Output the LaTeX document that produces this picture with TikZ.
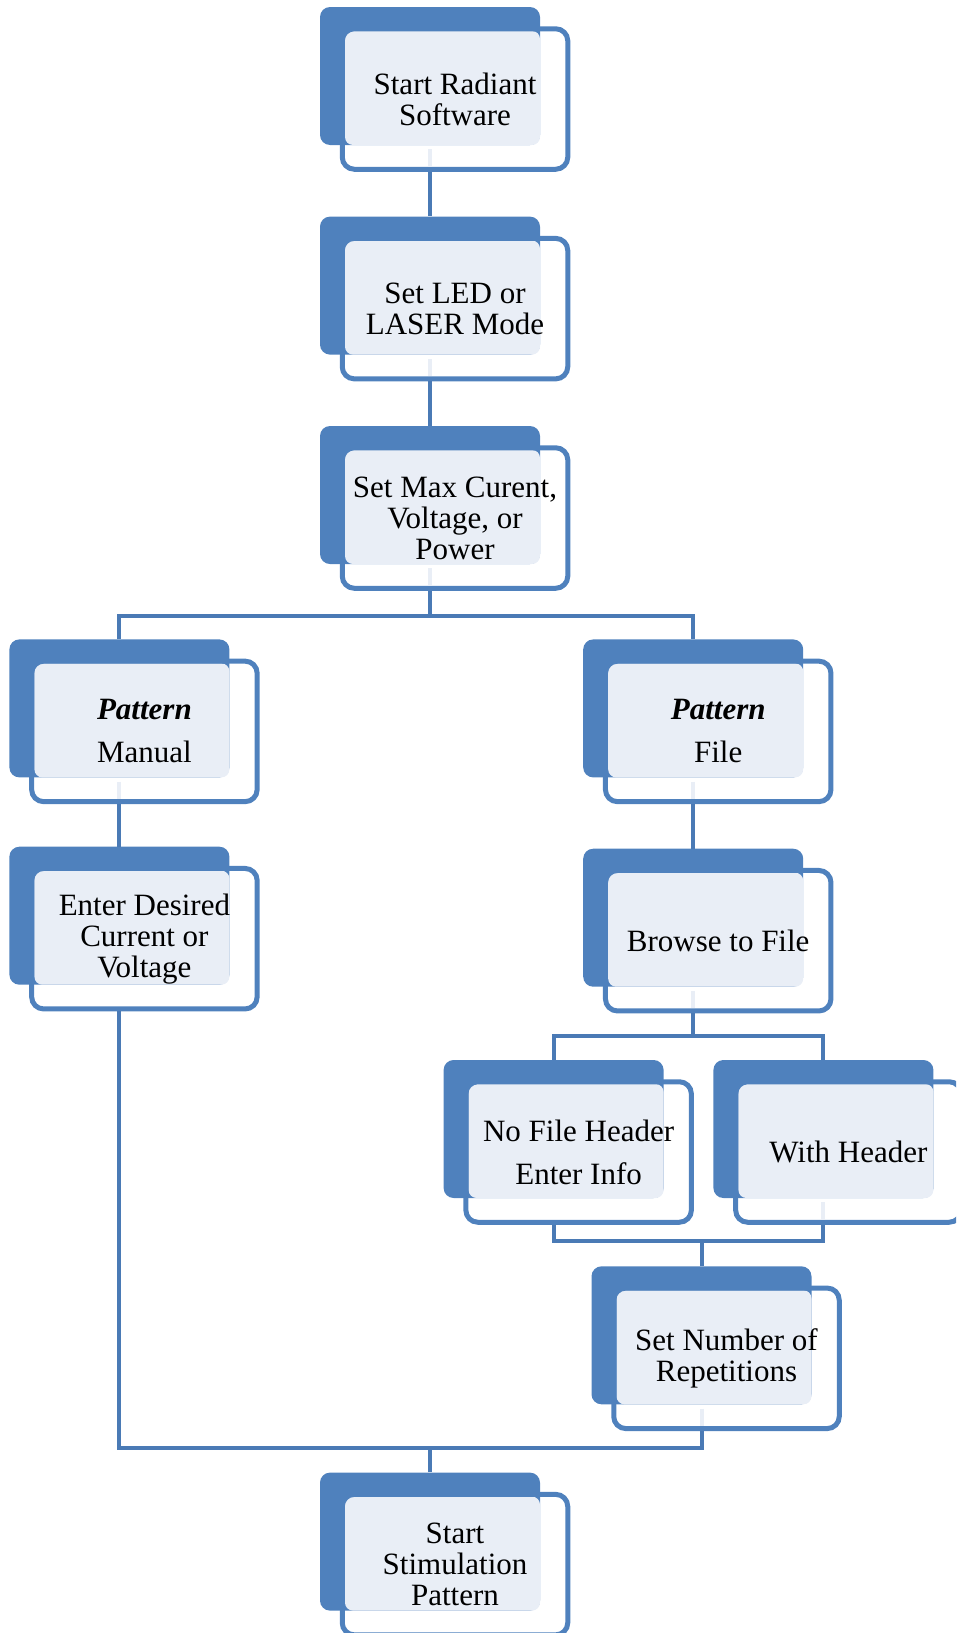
\documentclass[tikz,border=0pt]{standalone}
\usepackage{fontspec}
\setmainfont{Liberation Serif}
\definecolor{dkblue}{HTML}{4F81BD}
\definecolor{lnblue}{HTML}{4A7AB5}
\definecolor{ltblue}{HTML}{E9EEF6}
\tikzset{
  back/.style={fill=dkblue, draw=none, rounded corners=10pt, minimum width=220pt, minimum height=138pt, inner sep=0pt},
  front/.style={draw=dkblue, line width=5pt, rounded corners=12pt, minimum width=225.5pt, minimum height=140.5pt, inner sep=0pt, align=center, font=\fontsize{31pt}{31pt}\selectfont},
  conn/.style={draw=lnblue, line width=4pt},
  ltseg/.style={draw=ltblue, line width=4pt}
}
\newcommand\flowbox[4]{%
  \node[back] (#1b) at (#2+110,-#3-69) {};
  \fill[ltblue, rounded corners=8pt] (#2+25,-#3-24) rectangle (#2+220,-#3-138);
  \node[front] (#1) at (#2+135,-#3-92) {#4};
}
\newcommand\lightseg[1]{%
  \draw[ltseg] ([yshift=-4pt]#1b.south) -- ([yshift=5pt]#1b.south |- #1.south);
}
\begin{document}
\begin{tikzpicture}[x=1pt,y=1pt]
\clip (0,0) rectangle (956,-1633);
\flowbox{n1}{320}{7}{Start Radiant\\Software}
\flowbox{n2}{320}{216.6}{Set LED or\\LASER Mode}
\flowbox{n3}{320}{426}{Set Max Curent,\\Voltage, or\\Power}
\flowbox{n4}{9.4}{639.4}{\textbf{\textit{Pattern}}\\[12pt]Manual}
\flowbox{n5}{583.2}{639.4}{\textbf{\textit{Pattern}}\\[12pt]File}
\flowbox{n6}{9.4}{846.7}{Enter Desired\\Current or\\Voltage}
\flowbox{n7}{583.2}{848.7}{Browse to File}
\flowbox{n8}{443.6}{1060}{No File Header\\[12pt]Enter Info}
\flowbox{n9}{713.4}{1060}{With Header}
\flowbox{n10}{591.5}{1266.3}{Set Number of\\Repetitions}
\flowbox{n11}{320}{1472.6}{Start\\Stimulation\\Pattern}
\lightseg{n1}
\lightseg{n2}
\lightseg{n3}
\lightseg{n4}
\lightseg{n5}
\lightseg{n7}
\lightseg{n9}
\lightseg{n10}
\coordinate (j1) at (0,-615.5);
\coordinate (j2) at (0,-1036);
\coordinate (j3) at (0,-1241);
\coordinate (j4) at (0,-1447.5);
\draw[conn] (n1b.south |- n1.south) -- (n2b.north);
\draw[conn] (n2b.south |- n2.south) -- (n3b.north);
\draw[conn] (n3b.south |- n3.south) -- (n3b.south |- j1);
\draw[conn] (n4b.north) -- (n4b.north |- j1) -- (n5b.north |- j1) -- (n5b.north);
\draw[conn] (n4b.south |- n4.south) -- (n6b.north);
\draw[conn] (n5b.south |- n5.south) -- (n7b.north);
\draw[conn] (n7b.south |- n7.south) -- (n7b.south |- j2);
\draw[conn] (n8b.north) -- (n8b.north |- j2) -- (n9b.north |- j2) -- (n9b.north);
\draw[conn] (n8b.south |- n8.south) -- (n8b.south |- j3) -- (n9b.south |- j3) -- (n9b.south |- n9.south);
\draw[conn] (n10b.north) -- (n10b.north |- j3);
\draw[conn] (n6b.south |- n6.south) -- (n6b.south |- j4) -- (n10b.south |- j4) -- (n10b.south |- n10.south);
\draw[conn] (n11b.north) -- (n11b.north |- j4);
\end{tikzpicture}
\end{document}
